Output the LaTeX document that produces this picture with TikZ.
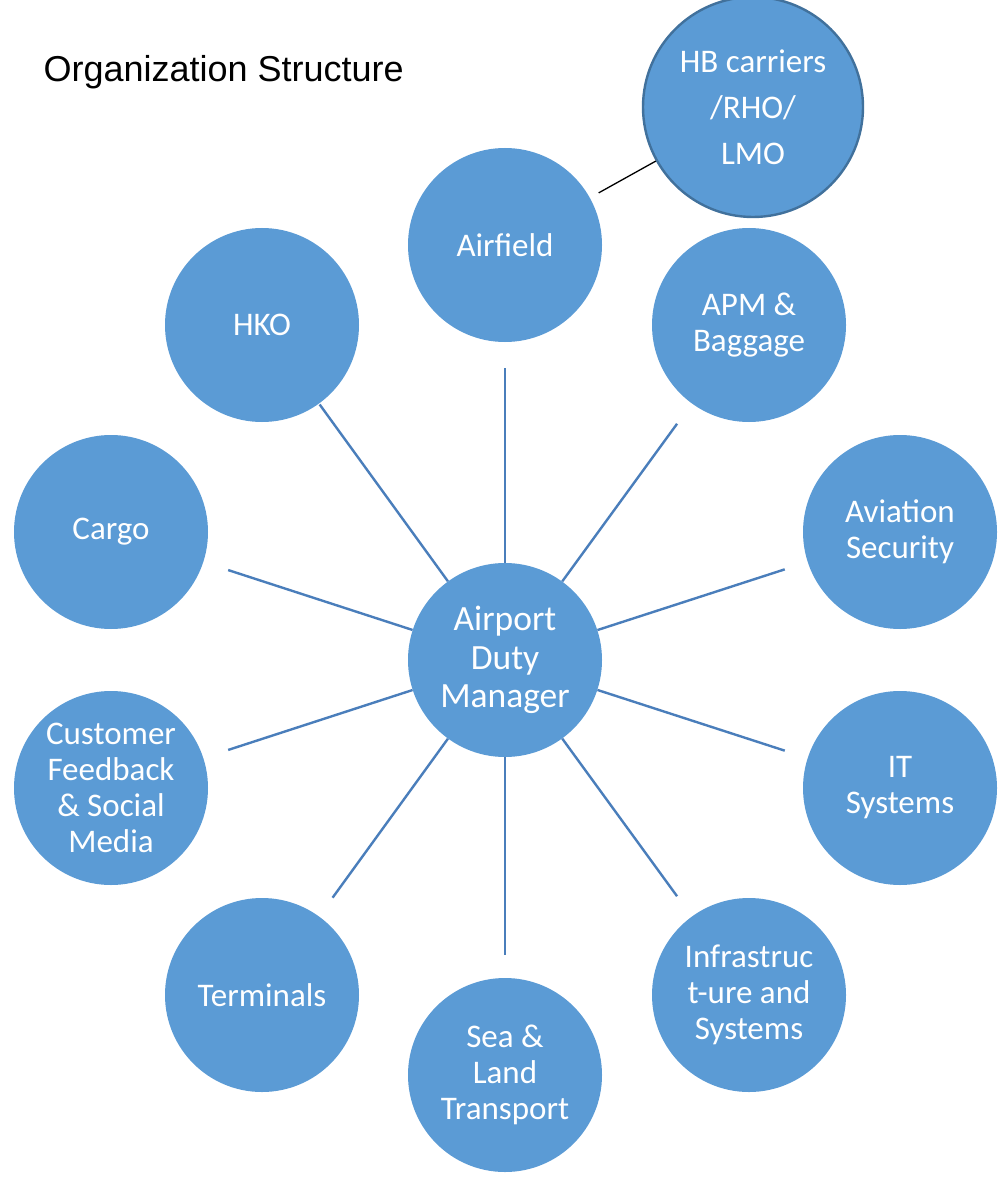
\documentclass[tikz,border=0pt]{standalone}
\usepackage{fontspec}
\setmainfont{Carlito}
\newfontfamily\titlefont{Liberation Sans}
\definecolor{bfill}{HTML}{5B9BD5}
\definecolor{bline}{HTML}{4A7EBB}
\definecolor{bedge}{HTML}{41719C}
\begin{document}
\begin{tikzpicture}[x=1pt,y=-1pt,
  unit/.style={circle,fill=bfill,draw=none,minimum size=194pt,inner sep=0pt,align=center,text=white,
    font=\fontsize{33}{36}\selectfont},
  spoke/.style={draw=bline,line width=2.4pt}]
\fill[white] (0,0) rectangle (1005,1182);
\useasboundingbox (0,0) rectangle (1005,1182);
\node[anchor=west,font=\titlefont\fontsize{36}{40}\selectfont] (title) at (40,72) {Organization Structure};
\node[unit,font=\fontsize{35.5}{38.5}\selectfont] (adm) at (505,660) {Airport\\Duty\\Manager};
\node[unit] (airfield) at (505,245) {Airfield};
\node[unit,minimum size=220pt,draw=bedge,line width=2.4pt,font=\fontsize{33}{46}\selectfont] (hb) at (753,107) {HB carriers\\/RHO/\\LMO};
\node[unit] (apm) at (749,325) {APM \&\\Baggage};
\node[unit] (avsec) at (900,532) {Aviation\\Security};
\node[unit] (it) at (900,788) {IT\\Systems};
\node[unit] (infra) at (749,995) {Infrastruc\\t-ure and\\Systems};
\node[unit] (sea) at (505,1075) {Sea \&\\Land\\Transport};
\node[unit] (term) at (262,995) {Terminals};
\node[unit] (cust) at (111,788) {Customer\\Feedback\\\& Social\\Media};
\node[unit] (cargo) at (111,532) {Cargo};
\node[unit] (hko) at (262,325) {HKO};
\draw[spoke,shorten >=26pt] (adm) -- (airfield);
\draw[spoke,shorten >=25pt] (adm) -- (apm);
\draw[spoke,shorten >=24pt] (adm) -- (avsec);
\draw[spoke,shorten >=24pt] (adm) -- (it);
\draw[spoke,shorten >=25pt] (adm) -- (infra);
\draw[spoke,shorten >=23pt] (adm) -- (sea);
\draw[spoke,shorten >=23pt] (adm) -- (term);
\draw[spoke,shorten >=26pt] (adm) -- (cust);
\draw[spoke,shorten >=26pt] (adm) -- (cargo);
\draw[spoke,shorten >=1pt] (adm) -- (hko);
\draw[black,line width=1.3pt,shorten <=10pt] (airfield) -- (hb);
\end{tikzpicture}
\end{document}
